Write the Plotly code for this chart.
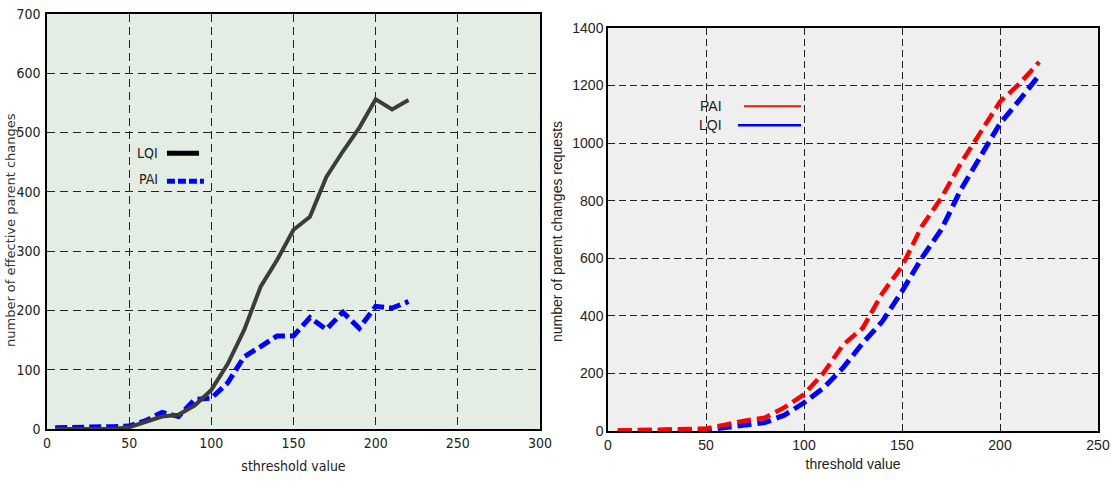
import plotly.graph_objects as go

# ---- data ----
x_left = [5, 10, 20, 30, 40, 50, 60, 70, 80, 90, 100, 110, 120, 130, 140, 150, 160, 170, 180, 190, 200, 210, 220]
lqi_effective = [0, 0, 0, 0, 0, 3, 12, 21, 24, 40, 66, 110, 167, 240, 285, 336, 358, 425, 468, 508, 556, 539, 555]
pai_effective = [2, 2, 3, 4, 4, 5, 14, 28, 21, 50, 52, 78, 122, 139, 157, 157, 188, 168, 197, 170, 207, 204, 215]

x_right = [5, 10, 20, 30, 40, 50, 60, 70, 80, 90, 100, 110, 120, 130, 140, 150, 160, 170, 180, 190, 200, 210, 220]
pai_requests = [2, 3, 4, 6, 7, 8, 22, 36, 46, 82, 127, 202, 300, 358, 479, 572, 710, 809, 930, 1040, 1144, 1207, 1282]
lqi_requests = [0, 0, 1, 1, 2, 3, 12, 22, 29, 55, 98, 150, 220, 306, 381, 485, 600, 699, 838, 953, 1068, 1150, 1236]

left_xticks = [0, 50, 100, 150, 200, 250, 300]
left_yticks = [0, 100, 200, 300, 400, 500, 600, 700]
right_xticks = [0, 50, 100, 150, 200, 250]
right_yticks = [0, 200, 400, 600, 800, 1000, 1200, 1400]

W, H = 1111, 482
NARROW = "Liberation Sans Narrow, Arial Narrow, DejaVu Sans Condensed, Liberation Sans, sans-serif"
SANS = "Liberation Sans, Arial, sans-serif"

def px_dom(a, b, total):
    return [a / total, b / total]

fig = go.Figure()

fig.add_trace(go.Scatter(x=x_left, y=pai_effective, mode="lines",
                         line=dict(color="#0000ff", width=5, dash="12px,5px"),
                         xaxis="x", yaxis="y", showlegend=False, name="PAI"))
fig.add_trace(go.Scatter(x=x_left, y=lqi_effective, mode="lines",
                         line=dict(color="#3c3c3c", width=4),
                         xaxis="x", yaxis="y", showlegend=False, name="LQI"))
fig.add_trace(go.Scatter(x=x_right, y=lqi_requests, mode="lines",
                         line=dict(color="#0000ff", width=5, dash="14px,6px"),
                         xaxis="x2", yaxis="y2", showlegend=False, name="LQI"))
fig.add_trace(go.Scatter(x=x_right, y=pai_requests, mode="lines",
                         line=dict(color="#ff0000", width=4.5, dash="14px,6px"),
                         xaxis="x2", yaxis="y2", showlegend=False, name="PAI"))

common_axis = dict(showline=True, linecolor="black", linewidth=1.5, mirror=True,
                   showgrid=True, gridcolor="#222222", gridwidth=1,
                   zeroline=False, ticks="", tickcolor="black")

fig.update_layout(
    width=W, height=H,
    margin=dict(l=0, r=0, t=0, b=0, autoexpand=False),
    paper_bgcolor="white", plot_bgcolor="rgba(0,0,0,0)",
    xaxis=dict(domain=px_dom(47, 540, W), range=[0, 300], tickvals=left_xticks,
               griddash="8px,5px", anchor="y",
               tickfont=dict(family=NARROW, size=14, color="#222"),
               title=dict(text="sthreshold value", font=dict(family=NARROW, size=14, color="#222"), standoff=12),
               **common_axis),
    yaxis=dict(domain=[(H - 429) / H, (H - 14) / H], range=[0, 700], tickvals=left_yticks,
               griddash="8px,5px", anchor="x", ticklabelstandoff=2,
               tickfont=dict(family=NARROW, size=14, color="#222"),
               **common_axis),
    xaxis2=dict(domain=px_dom(608, 1098, W), range=[0, 250], tickvals=right_xticks,
                griddash="7px,4px", anchor="y2",
                tickfont=dict(family=SANS, size=14, color="#222"),
                title=dict(text="threshold value", font=dict(family=SANS, size=14, color="#222"), standoff=8),
                **common_axis),
    yaxis2=dict(domain=[(H - 431) / H, (H - 28) / H], range=[0, 1400], tickvals=right_yticks,
                griddash="7px,4px", anchor="x2",
                tickfont=dict(family=SANS, size=14, color="#222"),
                **common_axis),
)

# panel backgrounds
fig.add_shape(type="rect", xref="x domain", yref="y domain", x0=0, x1=1, y0=0, y1=1,
              fillcolor="#e3ede3", line_width=0, layer="below")
fig.add_shape(type="rect", xref="x2 domain", yref="y2 domain", x0=0, x1=1, y0=0, y1=1,
              fillcolor="#efefef", line_width=0, layer="below")

# y-axis titles
fig.add_annotation(text="number of effective parent changes", xref="paper", yref="paper",
                   x=10 / W, y=1 - 230 / H, xanchor="center", yanchor="middle",
                   textangle=-90, showarrow=False,
                   font=dict(family="DejaVu Sans", size=13, color="#333"))
fig.add_annotation(text="number of parent changes requests", xref="paper", yref="paper",
                   x=557 / W, y=1 - 232 / H, xanchor="center", yanchor="middle",
                   textangle=-90, showarrow=False,
                   font=dict(family=SANS, size=14, color="#222"))

# legends (left panel)
fig.add_annotation(text="LQI", xref="x", yref="y", x=69, y=465, xanchor="right", showarrow=False,
                   font=dict(family=NARROW, size=14, color="#222"))
fig.add_shape(type="line", xref="x", yref="y", x0=73, x1=92.5, y0=465, y1=465,
              line=dict(color="black", width=5))
fig.add_annotation(text="PAI", xref="x", yref="y", x=69, y=422, xanchor="right", showarrow=False,
                   font=dict(family=NARROW, size=14, color="#222"))
fig.add_shape(type="line", xref="x", yref="y", x0=73, x1=95.5, y0=418, y1=418,
              line=dict(color="#0000ff", width=5, dash="8px,3px"))

# legends (right panel)
fig.add_annotation(text="PAI", xref="x2", yref="y2", x=59, y=1128, xanchor="right", showarrow=False,
                   font=dict(family=SANS, size=14, color="#222"))
fig.add_shape(type="line", xref="x2", yref="y2", x0=69.4, x1=98.5, y0=1128, y1=1128,
              line=dict(color="#dd2200", width=2))
fig.add_annotation(text="LQI", xref="x2", yref="y2", x=59, y=1062, xanchor="right", showarrow=False,
                   font=dict(family=SANS, size=14, color="#222"))
fig.add_shape(type="line", xref="x2", yref="y2", x0=66.3, x1=98.5, y0=1062, y1=1062,
              line=dict(color="#0000ff", width=2.5))

fig.write_html("out.html")
